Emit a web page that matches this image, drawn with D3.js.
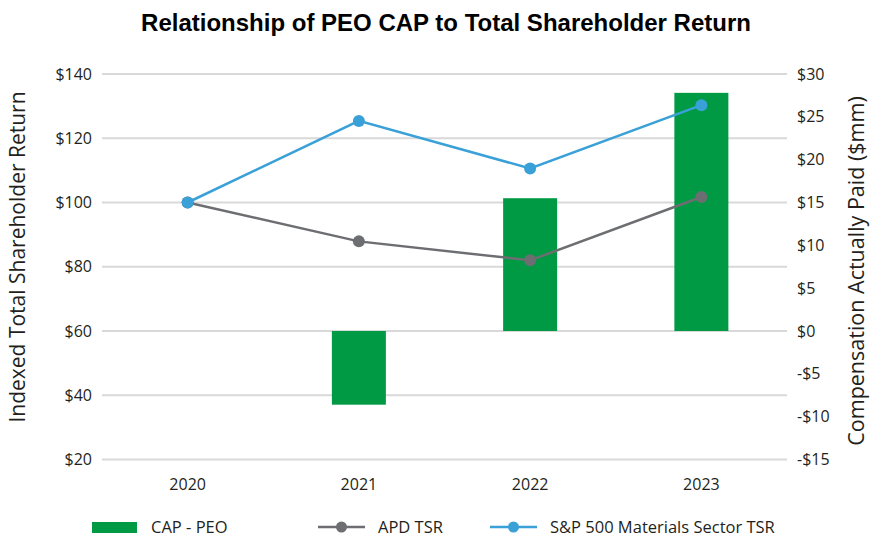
<!DOCTYPE html>
<html>
<head>
<meta charset="utf-8">
<script src="https://cdn.jsdelivr.net/npm/d3@7"></script>
<style>
  html, body { margin: 0; padding: 0; background: #fff; }
  svg { display: block; }
</style>
</head>
<body>
<svg id="chart" width="885" height="538"></svg>
<script>
// Fiscal years on the x axis
const years = ["2020", "2021", "2022", "2023"];
// Compensation actually paid to the PEO, $mm (right axis)
const capPeo = [null, -8.6, 15.5, 27.8];
// Indexed TSR, $100 invested at start of 2020 (left axis)
const apdTsr = [100, 87.9, 82.0, 101.7];
const spMaterialsTsr = [100, 125.4, 110.6, 130.3];
// Axis ticks
const leftTicks = [20, 40, 60, 80, 100, 120, 140];
const rightTicks = [-15, -10, -5, 0, 5, 10, 15, 20, 25, 30];

const svg = d3.select("#chart");
const textFont = "'Open Sans', 'Noto Sans', sans-serif";
const textColor = "#231f20";
const green = "#009a44", gray = "#6d6e71", blue = "#3aa0d8";

const plot = { left: 102, right: 787, top: 74, bottom: 459.5 };

const x = d3.scaleBand().domain(years).range([plot.left, plot.right]).paddingInner(0).paddingOuter(0);
const yLeft = d3.scaleLinear().domain([20, 140]).range([plot.bottom, plot.top]);
const yRight = d3.scaleLinear().domain([-15, 30]).range([plot.bottom, plot.top]);

// Title
svg.append("text")
  .attr("x", 446).attr("y", 31)
  .attr("text-anchor", "middle")
  .style("font-family", "'Liberation Sans', Arial, sans-serif")
  .style("font-weight", "bold")
  .style("font-size", "24px")
  .style("fill", "#000")
  .text("Relationship of PEO CAP to Total Shareholder Return");

// Gridlines (shared by both axes)
svg.append("g")
  .selectAll("line")
  .data(leftTicks)
  .join("line")
  .attr("x1", plot.left).attr("x2", plot.right)
  .attr("y1", d => yLeft(d)).attr("y2", d => yLeft(d))
  .attr("stroke", "#d9d9d9").attr("stroke-width", 2);

// Left axis
const leftAxis = svg.append("g")
  .attr("transform", `translate(${plot.left - 10},0)`)
  .call(d3.axisLeft(yLeft).tickValues(leftTicks).tickSize(0).tickPadding(0).tickFormat(d => "$" + d));
leftAxis.select(".domain").remove();
leftAxis.selectAll("text")
  .style("font-family", textFont).style("font-size", "16px").style("fill", textColor);

// Right axis
const rightAxis = svg.append("g")
  .attr("transform", `translate(${plot.right + 10},0)`)
  .call(d3.axisRight(yRight).tickValues(rightTicks).tickSize(0).tickPadding(0)
    .tickFormat(d => (d < 0 ? "-$" + Math.abs(d) : "$" + d)));
rightAxis.select(".domain").remove();
rightAxis.selectAll("text")
  .style("font-family", textFont).style("font-size", "16px").style("fill", textColor);

// Bottom axis
const bottomAxis = svg.append("g")
  .attr("transform", `translate(0,${plot.bottom})`)
  .call(d3.axisBottom(x).tickSize(0).tickPadding(19));
bottomAxis.select(".domain").remove();
bottomAxis.selectAll("text")
  .style("font-family", textFont).style("font-size", "16px").style("fill", textColor);

// Axis titles
svg.append("text")
  .attr("transform", `translate(25,257) rotate(-90)`)
  .attr("text-anchor", "middle")
  .style("font-family", textFont).style("font-size", "21px").style("fill", textColor)
  .text("Indexed Total Shareholder Return");
svg.append("text")
  .attr("transform", `translate(864,271) rotate(-90)`)
  .attr("text-anchor", "middle")
  .style("font-family", textFont).style("font-size", "21.5px").style("fill", textColor)
  .text("Compensation Actually Paid ($mm)");

// CAP bars
const barW = 54;
svg.append("g")
  .selectAll("rect")
  .data(years.map((y, i) => ({ year: y, value: capPeo[i] })).filter(d => d.value !== null))
  .join("rect")
  .attr("x", d => x(d.year) + x.bandwidth() / 2 - barW / 2)
  .attr("width", barW)
  .attr("y", d => yRight(Math.max(0, d.value)))
  .attr("height", d => Math.abs(yRight(d.value) - yRight(0)))
  .attr("fill", green);

// TSR lines
const lineGen = vals => d3.line()
  .x((d, i) => x(years[i]) + x.bandwidth() / 2)
  .y(d => yLeft(d))(vals);

function drawSeries(vals, color) {
  svg.append("path")
    .attr("d", lineGen(vals))
    .attr("fill", "none")
    .attr("stroke", color)
    .attr("stroke-width", 2.5);
  svg.append("g")
    .selectAll("circle")
    .data(vals)
    .join("circle")
    .attr("cx", (d, i) => x(years[i]) + x.bandwidth() / 2)
    .attr("cy", d => yLeft(d))
    .attr("r", 6)
    .attr("fill", color);
}
drawSeries(apdTsr, gray);
drawSeries(spMaterialsTsr, blue);

// Legend
const legend = svg.append("g").attr("transform", "translate(0,527)");
legend.append("rect").attr("x", 92).attr("y", -5).attr("width", 45).attr("height", 11).attr("fill", green);
legend.append("text").attr("x", 151).attr("y", 0).attr("dy", "0.35em")
  .style("font-family", textFont).style("font-size", "16.5px").style("fill", textColor).text("CAP - PEO");

const lineItems = [
  { label: "APD TSR", color: gray, x0: 318 },
  { label: "S&P 500 Materials Sector TSR", color: blue, x0: 490 }
];
lineItems.forEach(it => {
  legend.append("line").attr("x1", it.x0).attr("x2", it.x0 + 47).attr("y1", 0).attr("y2", 0)
    .attr("stroke", it.color).attr("stroke-width", 2.5);
  legend.append("circle").attr("cx", it.x0 + 23.5).attr("cy", 0).attr("r", 5.5).attr("fill", it.color);
  legend.append("text").attr("x", it.x0 + 60).attr("y", 0).attr("dy", "0.35em")
    .style("font-family", textFont).style("font-size", "16.5px").style("fill", textColor).text(it.label);
});
</script>
</body>
</html>
